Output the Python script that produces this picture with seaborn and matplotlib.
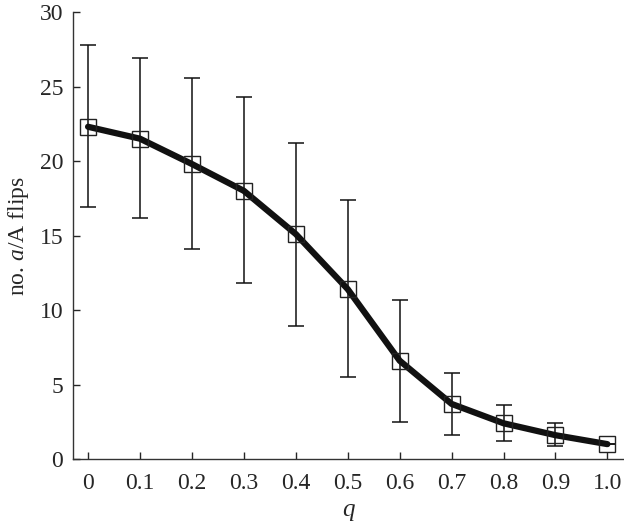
import numpy as np
import pandas as pd
import matplotlib
matplotlib.use("Agg")
import matplotlib.pyplot as plt
import seaborn as sns

# data
q = [0.0, 0.1, 0.2, 0.3, 0.4, 0.5, 0.6, 0.7, 0.8, 0.9, 1.0]
flips = [22.3, 21.5, 19.8, 18.0, 15.1, 11.4, 6.6, 3.7, 2.4, 1.6, 1.0]
upper = [27.8, 26.9, 25.6, 24.3, 21.2, 17.4, 10.7, 5.8, 3.6, 2.4, 1.0]
lower = [16.9, 16.2, 14.1, 11.8, 8.9, 5.5, 2.5, 1.6, 1.2, 0.9, 1.0]
xtick_labels = ['0', '0.1', '0.2', '0.3', '0.4', '0.5', '0.6', '0.7', '0.8', '0.9', '1.0']

df = pd.DataFrame({'q': q, 'flips': flips, 'upper': upper, 'lower': lower})

sns.set_style('ticks')
plt.rcParams['font.family'] = ['Liberation Serif', 'DejaVu Serif']
plt.rcParams['mathtext.fontset'] = 'custom'
plt.rcParams['mathtext.it'] = 'Liberation Serif:italic'
plt.rcParams['mathtext.rm'] = 'Liberation Serif'

fig = plt.figure(figsize=(6.24, 5.24), dpi=100)
ax = fig.add_axes([0.117, 0.124, 0.883, 0.853])

yerr = [df['flips'] - df['lower'], df['upper'] - df['flips']]
ax.errorbar(df['q'], df['flips'], yerr=yerr, fmt='none', ecolor='#111111',
            elinewidth=1.1, capsize=5.5, capthick=1.1, zorder=2)
sns.lineplot(data=df, x='q', y='flips', color='#111111', linewidth=4.5,
             ax=ax, zorder=3)
ax.plot(df['q'], df['flips'], linestyle='none', marker='s', markersize=11,
        markerfacecolor='none', markeredgecolor='#222222', markeredgewidth=1.0,
        zorder=4)

ax.set_xlim(-0.029, 1.032)
ax.set_ylim(0, 30)
ax.set_xticks(q)
ax.set_xticklabels(xtick_labels)
ax.set_yticks([0, 5, 10, 15, 20, 25, 30])
ax.tick_params(direction='in', length=5, width=1, labelsize=17, pad=7)
ax.tick_params(axis='x', pad=10)
ax.set_xlabel('$q$', fontsize=18, labelpad=5)
ax.set_ylabel('no. $a$/A flips', fontsize=17, labelpad=6)
sns.despine(ax=ax)
for sp in ['left', 'bottom']:
    ax.spines[sp].set_linewidth(1.0)
    ax.spines[sp].set_color('#333333')

plt.savefig('out.png', dpi=100)
